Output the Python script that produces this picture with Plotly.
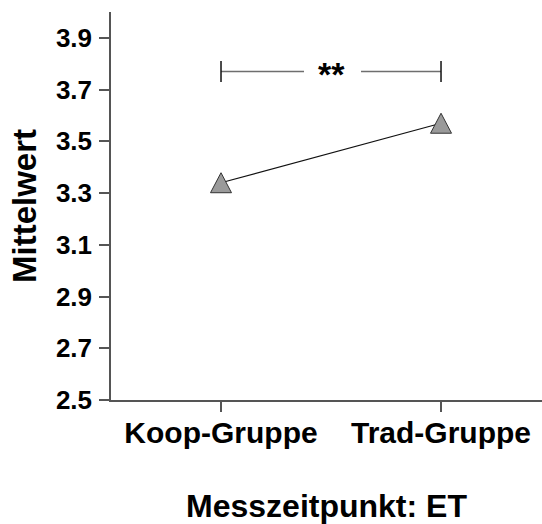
import plotly.graph_objects as go

# Mean scores of the two groups at measurement time ET
groups = ["Koop-Gruppe", "Trad-Gruppe"]
means = [3.34, 3.57]

# Significance bracket between the two groups
sig_label = "**"
sig_level = 3.77

y_ticks = [2.5, 2.7, 2.9, 3.1, 3.3, 3.5, 3.7, 3.9]

FONT = "Liberation Sans, Arial, Helvetica, sans-serif"
AXIS_COLOR = "#555555"

xpos = list(range(len(groups)))

fig = go.Figure()

# connecting line between the group means
fig.add_trace(go.Scatter(
    x=xpos, y=means, mode="lines",
    line=dict(color="#111111", width=1.2),
    hoverinfo="skip", showlegend=False,
))

shapes = []

# triangle markers, anchored at each mean, sized in pixels
tri_path = "M -10.5,-10 L 10.5,-10 L 0,10 Z"
for x, m in zip(xpos, means):
    shapes.append(dict(
        type="path", xref="x", yref="y",
        xsizemode="pixel", ysizemode="pixel",
        xanchor=x, yanchor=m, path=tri_path,
        fillcolor="#9a9a9a", line=dict(color="#333333", width=1),
        layer="above",
    ))

# bracket: horizontal segments with a gap for the label, plus end caps
gap_left, gap_right = 27, 30
shapes.append(dict(
    type="line", xref="x", yref="y",
    x0=xpos[0], x1=(xpos[0] + xpos[1]) / 2 - gap_left / 220,
    y0=sig_level, y1=sig_level,
    line=dict(color="#6e6e6e", width=1.6),
))
shapes.append(dict(
    type="line", xref="x", yref="y",
    x0=(xpos[0] + xpos[1]) / 2 + gap_right / 220, x1=xpos[1],
    y0=sig_level, y1=sig_level,
    line=dict(color="#6e6e6e", width=1.6),
))
for x in (xpos[0], xpos[1]):
    shapes.append(dict(
        type="line", xref="x", yref="y",
        ysizemode="pixel",
        yanchor=sig_level, x0=x, x1=x, y0=-10.5, y1=10.5,
        line=dict(color="#111111", width=1.5),
    ))

fig.add_annotation(
    x=(xpos[0] + xpos[1]) / 2, y=sig_level, text=sig_label,
    showarrow=False, xref="x", yref="y", yshift=-3,
    font=dict(family=FONT, size=34, color="#000000", weight="bold"),
)

fig.update_layout(
    width=542, height=524,
    margin=dict(l=111, r=0, t=12, b=124),
    paper_bgcolor="white", plot_bgcolor="white",
    shapes=shapes,
    showlegend=False,
    xaxis=dict(
        range=[-0.5, 1.459],
        tickvals=xpos, ticktext=groups,
        showline=True, linecolor=AXIS_COLOR, linewidth=1.5,
        ticks="outside", ticklen=10, tickwidth=1.5, tickcolor=AXIS_COLOR,
        showgrid=False, zeroline=False, ticklabelstandoff=-5,
        tickfont=dict(family=FONT, size=30, color="#000000", weight="bold"),
        title=dict(text="Messzeitpunkt: ET", standoff=50,
                   font=dict(family=FONT, size=32, color="#000000", weight="bold")),
    ),
    yaxis=dict(
        range=[2.5, 4.0],
        tickvals=y_ticks, ticktext=[f"{v:.1f}" for v in y_ticks],
        showline=True, linecolor=AXIS_COLOR, linewidth=1.5,
        ticks="outside", ticklen=10, tickwidth=1.5, tickcolor=AXIS_COLOR,
        showgrid=False, zeroline=False, ticklabelstandoff=2,
        tickfont=dict(family=FONT, size=26, color="#000000", weight="bold"),
        title=dict(text="Mittelwert", standoff=9,
                   font=dict(family=FONT, size=33, color="#000000", weight="bold")),
    ),
)

fig.write_html("out.html")
